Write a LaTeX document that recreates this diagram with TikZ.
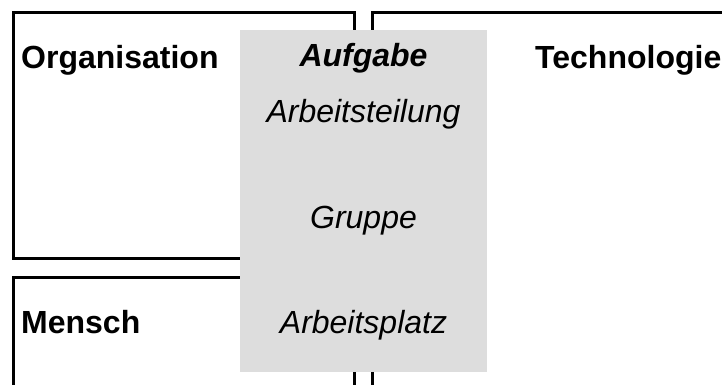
\documentclass[tikz,border=0pt]{standalone}
\usepackage{fontspec}
\setmainfont{Liberation Sans}
\definecolor{taskgrey}{HTML}{DDDDDD}
\begin{document}
\begin{tikzpicture}[x=1pt,y=-1pt,
  frame/.style={draw=black,line width=3pt,rectangle,outer sep=0pt,inner sep=0pt,anchor=north west},
  taskbox/.style={fill=taskgrey,rectangle,outer sep=0pt,inner sep=0pt,anchor=north west},
  heading/.style={font=\fontsize{32}{38}\selectfont\bfseries,inner sep=0pt},
  item/.style={font=\fontsize{32}{38}\selectfont\itshape,inner sep=0pt,anchor=base}]
  \useasboundingbox (0,0) rectangle (722,385);
  \clip (0,0) rectangle (722,385);
  % the three surrounding fields
  \node[frame,minimum width=340.5pt,minimum height=245.8pt] (org) at (13.5,12.5) {};
  \node[frame,minimum width=420pt,minimum height=440pt] (tech) at (372.5,12.5) {};
  \node[frame,minimum width=340.5pt,minimum height=200pt] (mensch) at (13.5,277) {};
  % the task field in the middle
  \node[taskbox,minimum width=247.3pt,minimum height=341.7pt] (task) at (240,30) {};
  % labels
  \node[heading,anchor=base west] (orgl) at (21,68.5) {Organisation};
  \node[heading,anchor=base west] (techl) at (535,68.5) {Technologie};
  \node[heading,anchor=base west] (menschl) at (21,333) {Mensch};
  \node[item,font=\fontsize{32}{38}\selectfont\bfseries\itshape] (aufg) at (363.5,67) {Aufgabe};
  \node[item] (teil) at (363.5,122) {Arbeitsteilung};
  \node[item] (grp) at (363.5,228) {Gruppe};
  \node[item] (platz) at (363.5,333) {Arbeitsplatz};
\end{tikzpicture}
\end{document}
